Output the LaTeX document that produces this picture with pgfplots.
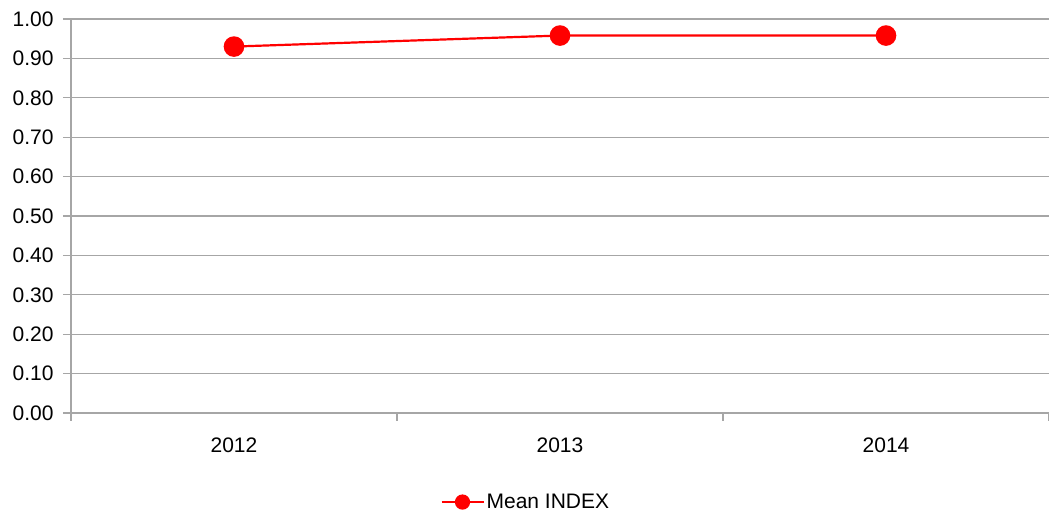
\documentclass[border=0pt]{standalone}
\usepackage{pgfplots}
\pgfplotsset{compat=1.18}
\usepackage{fontspec}
\setmainfont{Liberation Sans}
\definecolor{gridgray}{RGB}{166,166,166}
\definecolor{serred}{RGB}{255,0,0}

\begin{document}
\begin{tikzpicture}
\path[use as bounding box] (0,0) rectangle (1049bp,511bp);
\begin{axis}[
	at={(71bp,98bp)}, anchor=south west,
	scale only axis,
	width=978bp, height=394bp,
	xmin=-0.5, xmax=2.5,
	ymin=0, ymax=1,
	axis lines*=left,
	axis line style={gridgray, line width=1.3bp},
	xtick={0,1,2},
	xticklabels={2012,2013,2014},
	minor xtick={-0.5,0.5,1.5,2.5},
	ytick={0,0.1,0.2,0.3,0.4,0.5,0.6,0.7,0.8,0.9,1.0},
	ymajorgrids,
	grid style={gridgray, line width=1.3bp},
	tick align=outside,
	major tick length=8bp,
	minor tick length=8bp,
	major x tick style={draw=none},
	minor x tick style={gridgray, line width=1.3bp},
	major y tick style={gridgray, line width=1.3bp},
	tick label style={font=\fontsize{21bp}{25bp}\selectfont},
	/pgf/number format/fixed,
	/pgf/number format/fixed zerofill,
	/pgf/number format/precision=2,
	/pgf/number format/assume math mode=true,
	yticklabel style={xshift=-6bp},
	xticklabel style={yshift=-13bp},
	legend style={at={(0.465,-0.226)}, anchor=center, draw=none,
		font=\fontsize{21bp}{25bp}\selectfont, inner sep=0pt},
	legend image code/.code={%
		\draw[mark repeat=2, mark phase=2, mark size=6.5bp]
		plot coordinates {(0bp,0bp) (21bp,0bp) (42bp,0bp)};},
	clip=false,
]
\addplot[serred, line width=2.2bp, mark=*, mark size=9.2bp, mark options={solid, fill=serred, draw=serred}]
	coordinates {(0,0.930) (1,0.958) (2,0.958)};
\addlegendentry{Mean INDEX}
\end{axis}
\end{tikzpicture}
\end{document}
